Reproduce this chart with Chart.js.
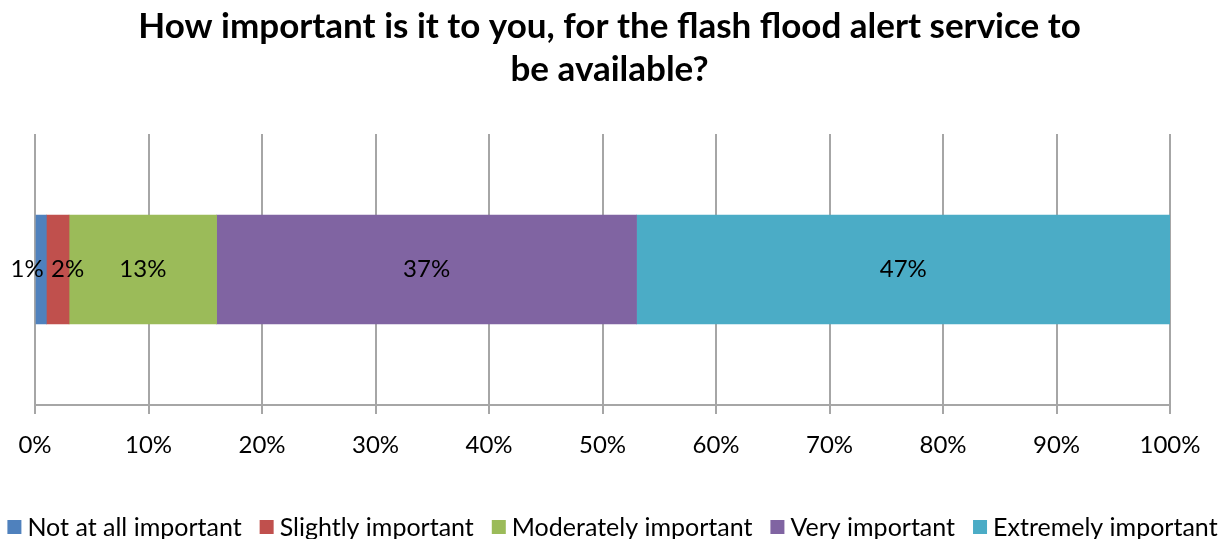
<!DOCTYPE html>
<html>
<head>
<meta charset="utf-8">
<script src="https://cdn.jsdelivr.net/npm/chart.js@4.4.1/dist/chart.umd.min.js"></script>
<style>
  html, body { margin: 0; padding: 0; background: #ffffff; }
  #wrap { width: 1219px; height: 539px; }
</style>
</head>
<body>
<div id="wrap"><canvas id="c" width="1219" height="539"></canvas></div>
<script>
// Survey responses (percent of respondents)
const categories = ['Not at all important', 'Slightly important', 'Moderately important', 'Very important', 'Extremely important'];
const shares = [1, 2, 13, 37, 47];
const colors = ['#4F81BD', '#C0504D', '#9BBB59', '#8064A2', '#4BACC6'];
const tickValues = [0, 10, 20, 30, 40, 50, 60, 70, 80, 90, 100];
const titleLines = ['How important is it to you, for the flash flood alert service to', 'be available?'];

const FONT = 'Lato, "Open Sans", sans-serif';

// Writes each segment's percentage inside its bar section
const segmentLabels = {
  id: 'segmentLabels',
  afterDatasetsDraw(chart, args, opts) {
    const ctx = chart.ctx;
    ctx.save();
    ctx.font = `${opts.size}px ${FONT}`;
    ctx.fillStyle = '#000000';
    ctx.textAlign = 'center';
    ctx.textBaseline = 'middle';
    chart.data.datasets.forEach((ds, i) => {
      const el = chart.getDatasetMeta(i).data[0];
      if (!el) return;
      const cx = (el.x + el.base) / 2 + (opts.shift[i] || 0);
      ctx.fillText(ds.data[0] + '%', cx, el.y);
    });
    ctx.restore();
  }
};

// Single-row legend along the bottom edge: square swatch, tight gap, label
const bottomLegend = {
  id: 'bottomLegend',
  afterDraw(chart, args, opts) {
    const ctx = chart.ctx;
    ctx.save();
    ctx.font = `${opts.size}px ${FONT}`;
    ctx.textBaseline = 'middle';
    ctx.textAlign = 'left';
    const items = chart.data.datasets.map(ds => ({
      text: ds.label,
      color: ds.backgroundColor,
      w: ctx.measureText(ds.label).width
    }));
    const total = items.reduce((s, it) => s + opts.box + opts.gap + it.w, 0) + opts.spacing * (items.length - 1);
    let x = opts.centerX - total / 2;
    const y = opts.y;
    items.forEach(it => {
      ctx.fillStyle = it.color;
      ctx.fillRect(x, y - opts.box / 2, opts.box, opts.box);
      x += opts.box + opts.gap;
      ctx.fillStyle = '#000000';
      ctx.fillText(it.text, x, y + 1);
      x += it.w + opts.spacing;
    });
    ctx.restore();
  }
};

new Chart(document.getElementById('c'), {
  type: 'bar',
  data: {
    labels: [''],
    datasets: categories.map((name, i) => ({
      label: name,
      data: [shares[i]],
      backgroundColor: colors[i],
      borderWidth: 0,
      barThickness: 109
    }))
  },
  options: {
    indexAxis: 'y',
    responsive: false,
    animation: false,
    layout: { padding: 0 },
    scales: {
      x: {
        stacked: true,
        min: 0,
        max: 100,
        afterBuildTicks(scale) { scale.ticks = tickValues.map(v => ({ value: v })); },
        afterFit(scale) { scale.height = 134; },
        grid: {
          color: '#a6a6a6',
          lineWidth: 2,
          tickLength: 9,
          drawTicks: true
        },
        border: { color: '#a6a6a6', width: 2 },
        ticks: {
          padding: 17,
          color: '#000000',
          font: { family: FONT, size: 24 },
          callback: v => v + '%'
        }
      },
      y: {
        stacked: true,
        position: 'left',
        grid: { display: false },
        border: { display: false },
        ticks: { display: false },
        afterFit(scale) { scale.width = 35; }
      },
      yRight: {
        type: 'category',
        position: 'right',
        grid: { display: false },
        border: { display: false },
        ticks: { display: false },
        afterFit(scale) { scale.width = 49; }
      }
    },
    plugins: {
      title: {
        display: true,
        text: titleLines,
        color: '#000000',
        font: { family: FONT, size: 35, weight: 'bold', lineHeight: 1.23 },
        padding: { top: 5.5, bottom: 42.4 }
      },
      legend: { display: false },
      tooltip: { enabled: false },
      segmentLabels: { size: 24, shift: [-14, 10, 0, 0, 0] },
      bottomLegend: { size: 25, box: 14, gap: 6, spacing: 18, centerX: 612.5, y: 527 }
    }
  },
  plugins: [segmentLabels, bottomLegend]
});
</script>
</body>
</html>
